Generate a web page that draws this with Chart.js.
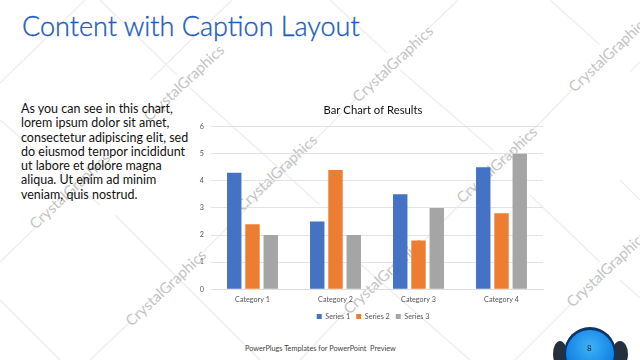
<!DOCTYPE html>
<html>
<head>
<meta charset="utf-8">
<script src="https://cdn.jsdelivr.net/npm/chart.js@4"></script>
<style>
html, body { margin: 0; padding: 0; background: #fff; }
#slide { position: relative; width: 640px; height: 360px; overflow: hidden; font-family: Lato, sans-serif; }
#slide > * { position: absolute; }
#mark { left: 0; top: 0; }
#mark text { font: 15px Lato, sans-serif; fill: #c4c4c4; text-anchor: middle; }
#mark line { stroke: #efefef; stroke-width: 1.5; }
#heading { left: 22px; top: 9px; margin: 0; font-size: 27px; font-weight: 300; color: #1a5cbf; -webkit-text-stroke: 0.35px #1a5cbf; white-space: nowrap; }
#caption { left: 21px; top: 102px; width: 180px; margin: 0; font-size: 12.5px; line-height: 14.3px; color: #111; white-space: nowrap; }
#chartBox { left: 190px; top: 96px; width: 370px; height: 234px; }
#footer { left: 245px; top: 344px; font: 7.3px Lato, sans-serif; color: #444; white-space: pre; }
#badge { left: 550px; top: 318px; }
#pageNo { left: 587px; top: 343px; font: 8px Lato, sans-serif; color: #123; }
</style>
</head>
<body>
<div id="slide">
  <svg id="mark" width="640" height="360"></svg>
  <h1 id="heading">Content with Caption Layout</h1>
  <p id="caption">As you can see in this chart,<br>lorem ipsum dolor sit amet,<br>consectetur adipiscing elit, sed<br>do eiusmod tempor incididunt<br>ut labore et dolore magna<br>aliqua. Ut enim ad minim<br>veniam, quis nostrud.</p>
  <div id="chartBox"><canvas id="resultsChart"></canvas></div>
  <svg id="badge" width="90" height="42">
    <defs>
      <radialGradient id="ball" cx="50%" cy="35%" r="65%">
        <stop offset="0%" stop-color="#3fb2f7"/>
        <stop offset="75%" stop-color="#1585e6"/>
        <stop offset="100%" stop-color="#0b5bb0"/>
      </radialGradient>
    </defs>
    <ellipse cx="10" cy="36" rx="7" ry="13" fill="#24303b"/>
    <ellipse cx="70" cy="36" rx="8" ry="13" fill="#24303b"/>
    <circle cx="40" cy="35" r="26" fill="#0a3566"/>
    <circle cx="40" cy="36" r="24" fill="url(#ball)"/>
  </svg>
  <div id="footer">PowerPlugs Templates for PowerPoint  Preview</div>
  <div id="pageNo">8</div>
</div>
<script>
const categories = ['Category 1', 'Category 2', 'Category 3', 'Category 4'];
const series1 = [4.3, 2.5, 3.5, 4.5];
const series2 = [2.4, 4.4, 1.8, 2.8];
const series3 = [2, 2, 3, 5];
const yTicks = [0, 1, 2, 3, 4, 5, 6];

// watermark behind everything, centre x, centre y
const markSpots = [[184, 83], [393, 64], [609, 54], [277, 173], [70, 191], [166, 288], [384, 276], [497, 165], [607, 269]];
const markLines = [
    [100, 0, 177, 75], [190, 88, 320, 205], [330, 0, 387, 53], [400, 70, 493, 150],
    [85, 0, 0, 83], [458, 0, 430, 27], [357, 98, 203, 252], [130, 322, 90, 360],
    [640, 62, 630, 72], [572, 90, 420, 245], [345, 312, 300, 360],
    [530, 195, 600, 262], [620, 280, 640, 298], [570, 305, 515, 360],
    [0, 120, 100, 205], [115, 215, 260, 360], [350, 255, 470, 360],
    [232, 0, 150, 80], [550, 0, 600, 45], [0, 300, 60, 360], [35, 228, 0, 262], [620, 180, 640, 200]
];
const svg = document.getElementById('mark');
markLines.forEach(l => {
    const el = document.createElementNS('http://www.w3.org/2000/svg', 'line');
    el.setAttribute('x1', l[0]); el.setAttribute('y1', l[1]);
    el.setAttribute('x2', l[2]); el.setAttribute('y2', l[3]);
    svg.appendChild(el);
});
markSpots.forEach(p => {
    const el = document.createElementNS('http://www.w3.org/2000/svg', 'text');
    el.setAttribute('x', p[0]); el.setAttribute('y', p[1] + 5);
    el.setAttribute('transform', `rotate(-43 ${p[0]} ${p[1]})`);
    el.textContent = 'CrystalGraphics';
    svg.appendChild(el);
});

const ctx = document.getElementById('resultsChart').getContext('2d');
const tickFont = { family: 'Lato, sans-serif', size: 7.2, lineHeight: 1 };
const makeSet = (label, data, color) => ({
    label: label,
    data: data,
    backgroundColor: color,
    categoryPercentage: 0.66,
    barPercentage: 0.79
});
new Chart(ctx, {
    type: 'bar',
    data: {
        labels: categories,
        datasets: [
            makeSet('Series 1', series1, '#4472c4'),
            makeSet('Series 2', series2, '#ed7d31'),
            makeSet('Series 3', series3, '#a5a5a5')
        ]
    },
    options: {
        responsive: true,
        maintainAspectRatio: false,
        animation: false,
        layout: { padding: { left: 7, right: 11, top: 0, bottom: 0 } },
        scales: {
            x: {
                grid: { display: false, drawTicks: false },
                border: { color: '#dedede' },
                afterFit: axis => { axis.height = 17.5; },
                ticks: { font: tickFont, color: '#555', padding: 7, maxRotation: 0 }
            },
            y: {
                min: 0,
                max: 6,
                afterBuildTicks: axis => { axis.ticks = yTicks.map(v => ({ value: v })); },
                afterFit: axis => { axis.width = 14; },
                grid: { color: '#e3e3e3', drawTicks: false },
                border: { display: false },
                ticks: { font: tickFont, color: '#555', padding: 7 }
            },
            // empty axis on the right, keeps title and legend centred like the slide
            yRight: {
                position: 'right',
                min: 0,
                max: 6,
                afterFit: axis => { axis.width = 6; },
                grid: { display: false, drawTicks: false },
                border: { display: false },
                ticks: { display: false }
            }
        },
        plugins: {
            title: {
                display: true,
                text: 'Bar Chart of Results',
                color: '#111',
                font: { family: 'Lato, sans-serif', size: 11.3, weight: 'normal' },
                padding: { top: 8, bottom: 9 }
            },
            legend: {
                position: 'bottom',
                labels: { font: tickFont, color: '#555', boxWidth: 5, boxHeight: 5, padding: 6 }
            },
            tooltip: { enabled: false }
        }
    }
});
</script>
</body>
</html>
